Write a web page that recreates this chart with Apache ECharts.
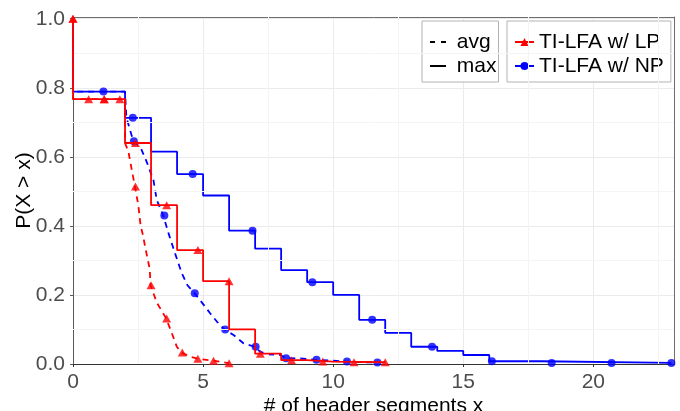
<!DOCTYPE html>
<html>
<head>
<meta charset="utf-8">
<script src="https://cdn.jsdelivr.net/npm/echarts@6/dist/echarts.min.js"></script>
<style>
  html, body { margin: 0; padding: 0; background: #fff; }
  #chart { width: 680px; height: 411px; }
</style>
</head>
<body>
<div id="chart"></div>
<script>
const FONT = '"Liberation Sans", Arial, Helvetica, sans-serif';

// Axis ticks
const xTicks = [0, 5, 10, 15, 20];
const xMinorTicks = [2.5, 7.5, 12.5, 17.5, 22.5];
const yMinorTicks = [0.1, 0.3, 0.5, 0.7, 0.9];

// TI-LFA w/ LP, max segments: step breakpoints (value holds from x onward)
const lpMaxX = [0, 0, 2, 3, 4, 5, 6, 7, 8, 9, 10, 12];
const lpMaxY = [1.0, 0.767, 0.64, 0.46, 0.33, 0.24, 0.10, 0.03, 0.011, 0.007, 0.005, 0.005];
// TI-LFA w/ LP, avg segments
const lpAvgX = [0, 0, 2, 2, 2.13, 2.26, 2.38, 2.51, 2.6, 2.7, 2.77, 2.95, 2.98, 3.22, 3.58, 3.8, 3.99, 4.18, 4.5, 4.8, 5.4, 6.0];
const lpAvgY = [1.0, 0.767, 0.767, 0.64, 0.615, 0.562, 0.514, 0.46, 0.40, 0.37, 0.34, 0.275, 0.228, 0.178, 0.132, 0.089, 0.05, 0.033, 0.021, 0.015, 0.0097, 0.002];

// TI-LFA w/ NP, max segments: step breakpoints
const npMaxX = [0, 0, 2, 3, 4, 5, 6, 7, 8, 9, 10, 11, 12, 13, 14, 15, 16, 18, 23];
const npMaxY = [1.0, 0.789, 0.713, 0.615, 0.55, 0.488, 0.386, 0.334, 0.272, 0.237, 0.20, 0.128, 0.09, 0.05, 0.038, 0.026, 0.008, 0.003, 0.003];
// TI-LFA w/ NP, avg segments
const npAvgX = [0, 0, 2, 2.05, 2.19, 2.32, 2.58, 2.83, 3.09, 3.22, 3.47, 3.67, 3.92, 4.18, 4.4, 4.67, 5.08, 5.27, 5.53, 5.82, 6.17, 6.55, 6.97, 7.19, 7.45, 7.96, 8.18, 8.73, 9.35, 10.0, 10.5, 11.7];
const npAvgY = [1.0, 0.789, 0.789, 0.715, 0.678, 0.645, 0.63, 0.586, 0.533, 0.475, 0.43, 0.379, 0.321, 0.263, 0.228, 0.205, 0.166, 0.147, 0.123, 0.10, 0.084, 0.06, 0.05, 0.036, 0.028, 0.026, 0.017, 0.016, 0.012, 0.010, 0.007, 0.004];

// Point markers drawn along each curve
const lpMaxMarkX = [0, 1.2, 2.4, 3.6, 4.8, 6.0, 7.2, 8.4, 9.6, 10.8, 12.0];
const lpMaxMarkY = [1.0, 0.767, 0.64, 0.46, 0.33, 0.24, 0.03, 0.011, 0.007, 0.005, 0.005];
const lpAvgMarkX = [0, 0.6, 1.2, 1.8, 2.4, 3.0, 3.6, 4.2, 4.8, 5.4, 6.0];
const lpAvgMarkY = [1.0, 0.767, 0.767, 0.767, 0.514, 0.228, 0.132, 0.033, 0.015, 0.0097, 0.002];
const npMaxMarkX = [2.3, 4.6, 6.9, 9.2, 11.5, 13.8, 16.1, 18.4, 20.7, 23.0];
const npMaxMarkY = [0.713, 0.55, 0.386, 0.237, 0.128, 0.05, 0.008, 0.003, 0.003, 0.003];
const npAvgMarkX = [1.17, 2.34, 3.51, 4.68, 5.85, 7.02, 8.19, 9.36, 10.53, 11.7];
const npAvgMarkY = [0.789, 0.645, 0.43, 0.205, 0.10, 0.05, 0.017, 0.012, 0.007, 0.004];

const zip = (xs, ys) => xs.map((x, i) => [x, ys[i]]);

const RED = '#ff0000';
const BLUE = '#0000ff';
const LW = 1.8;
const DASH = [6, 5];

const chart = echarts.init(document.getElementById('chart'), null, { renderer: 'canvas' });

const option = {
  animation: false,
  backgroundColor: '#ffffff',
  textStyle: { fontFamily: FONT },
  grid: { left: 73, right: 6, top: 17, bottom: 47, containLabel: false, outerBoundsMode: 'none' },
  xAxis: [{
    type: 'value', min: 0, max: 23.1, interval: 5, offset: 4,
    axisLine: { show: true, lineStyle: { color: '#333333', width: 1 } },
    axisTick: { show: true, length: 3, lineStyle: { color: '#333333' } },
    axisLabel: { color: '#4d4d4d', fontSize: 21, fontFamily: FONT, margin: 4, showMaxLabel: false },
    splitLine: { show: true, lineStyle: { color: '#ebebeb', width: 1 } },
    name: '# of header segments x', nameLocation: 'middle', nameGap: 28, nameMoveOverlap: false,
    nameTextStyle: { color: '#000000', fontSize: 21, fontFamily: FONT }
  }, {
    type: 'value', position: 'top', min: 0, max: 23.1,
    axisLine: { show: true, onZero: false, lineStyle: { color: '#6e6e6e', width: 1 } },
    axisTick: { show: false }, axisLabel: { show: false }, splitLine: { show: false }
  }],
  yAxis: [{
    type: 'value', min: 0, max: 1.005, interval: 0.2, offset: 3,
    axisLine: { show: true, lineStyle: { color: '#5a5a5a', width: 1 } },
    axisTick: { show: true, length: 3, lineStyle: { color: '#5a5a5a' } },
    axisLabel: { color: '#4d4d4d', fontSize: 21, fontFamily: FONT, margin: 5, showMaxLabel: false,
                 formatter: v => v.toFixed(1) },
    splitLine: { show: true, lineStyle: { color: '#ebebeb', width: 1 } },
    name: 'P(X > x)', nameLocation: 'middle', nameGap: 35, nameMoveOverlap: false,
    nameTextStyle: { color: '#000000', fontSize: 21, fontFamily: FONT }
  }, {
    type: 'value', position: 'right', min: 0, max: 1.005,
    axisLine: { show: true, onZero: false, lineStyle: { color: '#6e6e6e', width: 1 } },
    axisTick: { show: false }, axisLabel: { show: false }, splitLine: { show: false }
  }],
  legend: [{
    data: [
      { name: 'avg', itemStyle: { opacity: 0 } },
      { name: 'max', itemStyle: { opacity: 0 } }
    ],
    formatter: ' {name}',
    orient: 'vertical', left: 422, top: 21, selectedMode: false,
    backgroundColor: '#ffffff', borderColor: '#b3b3b3', borderWidth: 1,
    padding: [10, 2, 5, 7], itemGap: 2, itemWidth: 16, itemHeight: 10,
    textStyle: { fontSize: 21, fontFamily: FONT, color: '#000000', lineHeight: 22 }
  }, {
    data: ['TI-LFA w/ LP', 'TI-LFA w/ NP'],
    orient: 'vertical', left: 507, top: 21, selectedMode: false,
    backgroundColor: '#ffffff', borderColor: '#b3b3b3', borderWidth: 1,
    padding: [10, 7, 5, 7], itemGap: 2, itemWidth: 19, itemHeight: 10,
    textStyle: { fontSize: 21, fontFamily: FONT, color: '#000000', lineHeight: 22 }
  }],
  series: [
    {
      // minor grid lines
      name: 'grid-minor', type: 'line', data: [], silent: true, z: 1,
      markLine: {
        silent: true, symbol: ['none', 'none'], label: { show: false }, animation: false,
        emphasis: { disabled: true },
        lineStyle: { color: '#f4f4f4', width: 1, type: 'solid' },
        data: xMinorTicks.map(v => ({ xAxis: v })).concat(yMinorTicks.map(v => ({ yAxis: v })))
      }
    },
    {
      name: 'NP max', type: 'line', step: 'end', data: zip(npMaxX, npMaxY),
      showSymbol: false, symbol: 'none', color: BLUE, lineStyle: { color: BLUE, width: LW }, z: 3
    },
    {
      name: 'NP avg', type: 'line', data: zip(npAvgX, npAvgY),
      showSymbol: false, symbol: 'none', color: BLUE, lineStyle: { color: BLUE, width: LW, type: DASH }, z: 3
    },
    {
      name: 'NP max pts', type: 'scatter', data: zip(npMaxMarkX, npMaxMarkY),
      symbol: 'circle', symbolSize: 8, itemStyle: { color: BLUE }, z: 4
    },
    {
      name: 'NP avg pts', type: 'scatter', data: zip(npAvgMarkX, npAvgMarkY),
      symbol: 'circle', symbolSize: 8, itemStyle: { color: BLUE }, z: 4
    },
    {
      name: 'LP max', type: 'line', step: 'end', data: zip(lpMaxX, lpMaxY),
      showSymbol: false, symbol: 'none', color: RED, lineStyle: { color: RED, width: LW }, z: 5
    },
    {
      name: 'LP avg', type: 'line', data: zip(lpAvgX, lpAvgY),
      showSymbol: false, symbol: 'none', color: RED, lineStyle: { color: RED, width: LW, type: DASH }, z: 5
    },
    {
      name: 'LP max pts', type: 'scatter', data: zip(lpMaxMarkX, lpMaxMarkY),
      symbol: 'triangle', symbolSize: [9, 8], itemStyle: { color: RED }, z: 6
    },
    {
      name: 'LP avg pts', type: 'scatter', data: zip(lpAvgMarkX, lpAvgMarkY),
      symbol: 'triangle', symbolSize: [9, 8], itemStyle: { color: RED }, z: 6
    },
    // legend entries
    { name: 'avg', type: 'line', data: [], symbol: 'none', color: '#000000',
      lineStyle: { color: '#000000', width: 1.5, type: [5, 6] } },
    { name: 'max', type: 'line', data: [], symbol: 'none', color: '#000000',
      lineStyle: { color: '#000000', width: 1.5 } },
    { name: 'TI-LFA w/ LP', type: 'line', data: [], symbol: 'triangle', color: RED,
      lineStyle: { color: RED, width: 1.5 } },
    { name: 'TI-LFA w/ NP', type: 'line', data: [], symbol: 'circle', color: BLUE,
      lineStyle: { color: BLUE, width: 1.5 } }
  ]
};

chart.setOption(option);
</script>
</body>
</html>
